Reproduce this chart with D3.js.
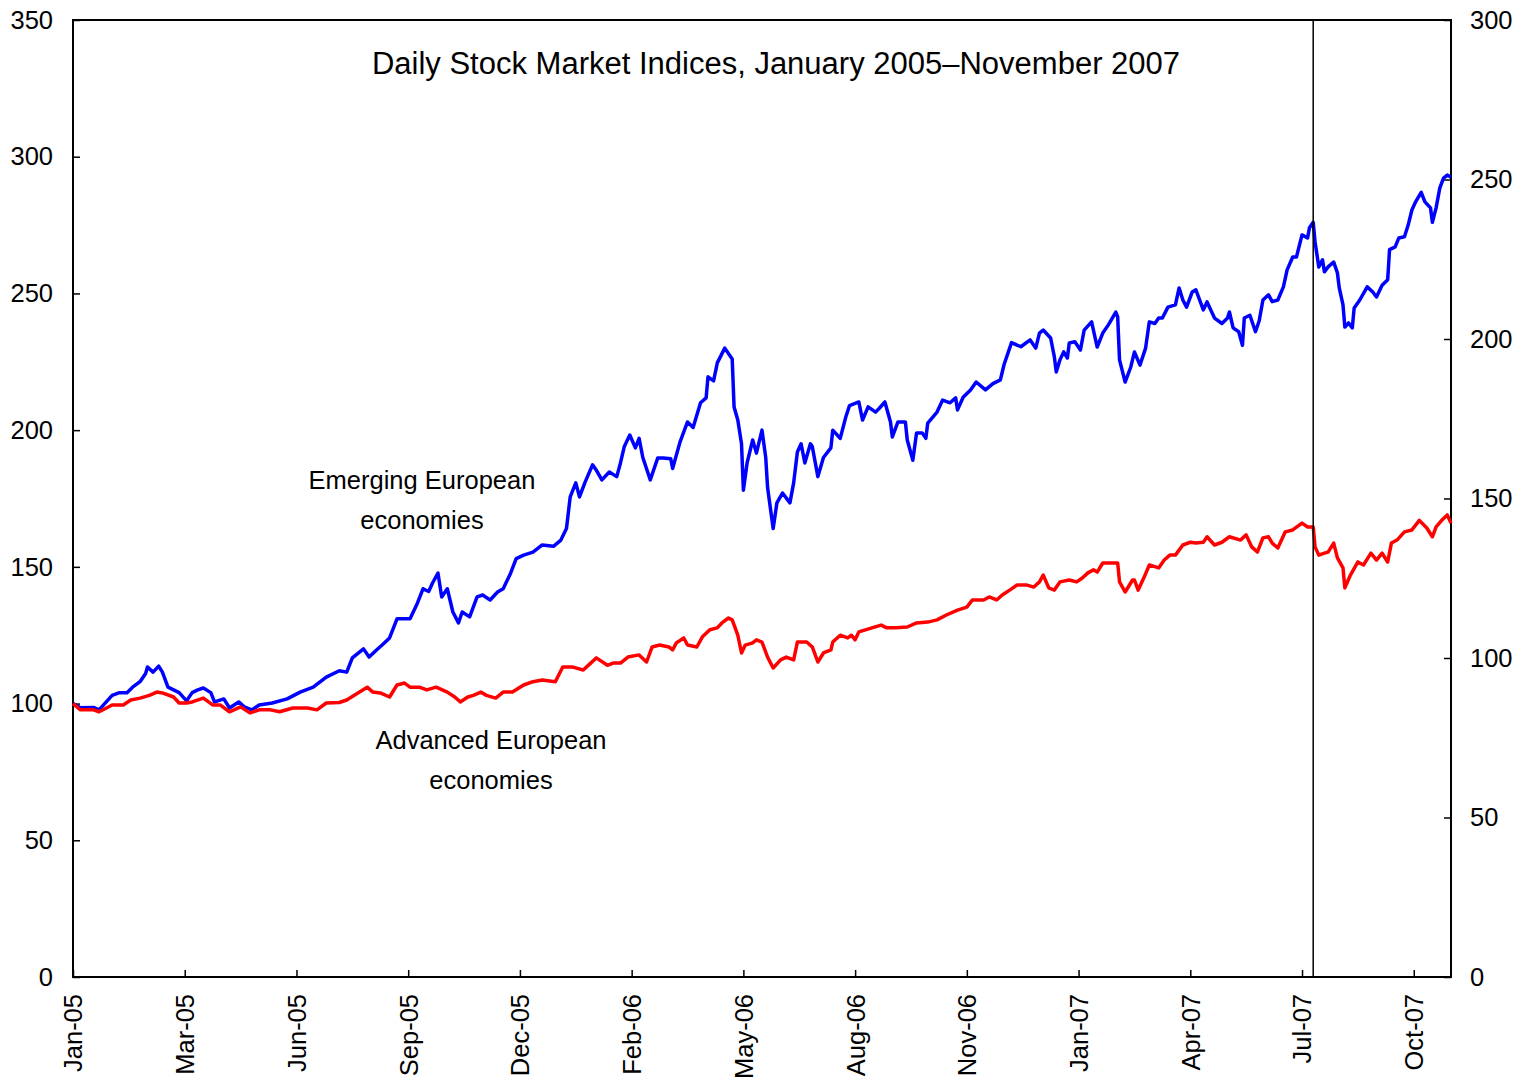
<!DOCTYPE html>
<html>
<head>
<meta charset="utf-8">
<script src="https://cdn.jsdelivr.net/npm/d3@7"></script>
<style>
  body { margin: 0; background: #fff; }
  text { font-family: "Liberation Sans", Arial, sans-serif; fill: #000; }
</style>
</head>
<body>
<div id="chart"></div>
<script>
var svgWidth = 1522;
var svgHeight = 1089;

var margin = { top: 20, right: 71, bottom: 112, left: 73 };
var width = svgWidth - margin.left - margin.right;
var height = svgHeight - margin.top - margin.bottom;

// x is the trading-day number since the first of January 2005
var lastDay = 740;
var tickDays = [0, 60, 120, 180, 240, 300, 360, 420, 480, 540, 600, 660, 720];
var tickLabels = ["Jan-05", "Mar-05", "Jun-05", "Sep-05", "Dec-05", "Feb-06", "May-06",
                  "Aug-06", "Nov-06", "Jan-07", "Apr-07", "Jul-07", "Oct-07"];
var leftTicks = [0, 50, 100, 150, 200, 250, 300, 350];
var rightTicks = [0, 50, 100, 150, 200, 250, 300];
var markerDay = 666;

// [trading day, index level]
var emerging = [
  [0,100],[4,98.5],[11,98.6],[14,97.7],[21,103],[25,104],[29,104],[32,106],[36,108],[39,111],
  [40,113.4],[43,111.5],[46,113.7],[48,111.5],[51,106],[54,105],[57,104],[61,101],[64,104],[67,105],
  [70,105.7],[74,104],[76,100.6],[81,101.7],[84,98.4],[89,100.6],[92,98.8],[96,97.7],[100,99.5],[107,100.2],
  [115,101.7],[122,104.2],[129,106],[136,109.7],[143,112],[147,111.5],[150,116.7],[156,120],[159,117],[163,119.6],
  [166,121.4],[170,124],[174,131],[177,131],[181,131],[185,136.8],[188,142],[191,141],[193,144],[196,147.7],
  [198,139],[201,142],[204,133.5],[207,129.5],[209,133.5],[213,131.7],[217,139],[220,139.7],[224,137.9],[228,140.8],
  [231,142],[235,147.7],[238,153],[242,154.3],[247,155.4],[252,158],[258,157.5],[262,159.8],[265,164],[267,175.6],
  [270,180.7],[272,175.6],[275,181],[279,187.3],[281,185.4],[284,181.8],[288,184.7],[292,183],[294,188],[296,193.9],
  [299,198.2],[302,193.5],[304,197],[306,190],[310,181.8],[314,189.8],[317,189.8],[321,189.5],[322,186],[326,195.7],
  [330,203],[333,201],[337,210],[340,211.8],[341,219.5],[344,218],[346,224.6],[350,230],[354,226],[355,208.5],
  [357,203.7],[359,195],[360,178],[362,188],[365,196.4],[367,191.6],[370,200],[372,190],[373,179],[376,164],
  [378,173.4],[381,177],[385,173.4],[387,180.7],[389,192],[391,195],[393,188],[396,195],[397,194],[400,183],
  [403,190],[407,193.5],[408,200],[412,197],[415,204.8],[417,209],[422,210.3],[424,203.7],[427,208.5],[431,206.6],
  [433,208],[436,210.3],[439,203],[440,197.5],[443,203],[447,203],[448,196.4],[451,189],[453,199],[456,199],
  [458,197],[459,202.6],[464,206.6],[467,211],[471,210],[474,211.8],[475,207.4],[478,212],[482,214.7],[485,217.6],
  [490,214.7],[494,217],[498,218.4],[500,224],[504,232],[509,230.5],[514,233],[517,230],[519,235.5],[521,236.6],
  [525,233.7],[527,226.8],[528,221.3],[530,225.7],[532,228.6],[534,226.4],[535,231.9],[538,232.3],[541,229.3],[543,236.6],
  [547,239.6],[550,230.4],[553,235.5],[556,238.5],[560,243.2],[561,241.4],[562,225.7],[565,217.6],[568,223],[570,228.6],
  [573,223.8],[576,230],[578,239.6],[581,239],[583,241],[585,241],[588,245],[592,245.8],[594,252],[596,247.6],
  [598,245],[601,250.5],[603,251.3],[607,244],[609,246.9],[613,241],[617,239],[620,241],[621,243.2],[623,237.4],
  [626,236],[628,231],[629,241],[632,242],[635,236],[637,240],[639,247.6],[642,249.5],[644,247],[647,247.6],
  [650,252.4],[652,258.6],[655,263.3],[657,263.3],[660,271.4],[663,270.3],[664,274],[666,276],[667,268.8],[669,259.7],
  [671,262.3],[672,257.9],[674,259.7],[677,261.5],[679,257.5],[680,252],[682,245.8],[683,237.7],[685,239.2],[687,237.4],
  [688,244.7],[691,247.6],[695,252.4],[698,250.5],[700,248.7],[703,253],[706,255],[707,266],[710,267],[712,270.3],
  [715,270.7],[717,275],[719,280.5],[721,283.5],[724,287],[726,283.5],[729,281.3],[730,276],[732,281.3],[734,288.6],
  [736,292.2],[738,293.3],[740,292.5]
];

var advanced = [
  [0,100],[4,97.7],[11,97.7],[14,97],[18,98.4],[21,99.5],[27,99.5],[31,101.3],[36,102],[41,103],
  [45,104.2],[48,103.9],[54,102.4],[57,100.2],[61,100.2],[64,100.6],[70,102],[75,99.5],[79,99.5],[84,97],
  [90,98.8],[95,96.6],[100,97.7],[106,97.7],[111,97],[118,98.4],[126,98.4],[131,97.7],[136,100.2],[143,100.4],
  [147,101.3],[153,103.9],[158,106],[161,104.2],[165,103.9],[170,102.4],[174,106.8],[178,107.5],[181,106],[186,106],
  [190,105],[195,106],[201,104.2],[205,102.4],[208,100.6],[212,102.4],[215,103],[219,104.2],[222,103],[227,102],
  [231,104.2],[236,104.2],[242,106.8],[247,108],[252,108.6],[259,108],[263,113.4],[268,113.4],[274,112.3],[278,114.8],
  [281,116.7],[287,114],[290,114.8],[294,114.8],[298,117],[304,117.8],[308,115.2],[311,120.7],[315,121.4],[320,120.7],
  [322,119.6],[324,122.2],[328,124],[330,121.4],[335,120.7],[338,124.4],[342,127],[346,127.7],[349,129.8],[352,131.3],
  [354,130.6],[357,125],[359,118.5],[361,121.4],[365,122.2],[367,123.3],[370,122.5],[373,117],[376,113],[380,116],
  [383,117],[387,116],[389,122.5],[394,122.5],[397,120.7],[400,115.2],[403,118.5],[407,119.6],[408,122.5],[412,125],
  [416,124],[418,125],[420,123.3],[422,126.2],[429,127.7],[434,128.7],[437,127.7],[442,127.7],[448,128],[453,129.5],
  [459,129.8],[464,130.6],[469,132.4],[475,134.2],[480,135.3],[483,137.9],[489,137.9],[492,139],[496,137.9],[499,139.7],
  [503,141.5],[507,143.4],[512,143.4],[516,142.6],[519,144.5],[521,147],[524,142.3],[527,141.5],[530,144.5],[535,145.2],
  [539,144.5],[542,145.9],[545,147.8],[548,148.9],[550,148.1],[553,151.4],[557,151.4],[561,151.4],[562,144.5],[565,140.8],
  [569,145.2],[570,145.2],[572,141.5],[575,145.9],[578,150.7],[583,149.6],[586,152.5],[589,154.3],[592,154.3],[596,158],
  [600,159],[603,158.7],[607,159],[609,161],[613,158],[617,159],[621,161],[627,159.8],[630,161.7],[633,157.3],
  [636,155.4],[639,160.6],[642,161],[644,158.7],[647,156.9],[651,162.8],[655,163.5],[660,166],[663,164.6],[666,164.6],
  [667,157.3],[669,154.3],[672,155],[674,155.4],[677,158.7],[679,153.3],[682,149.6],[683,142.3],[686,147],[690,151.8],
  [693,150.7],[697,155],[700,152.5],[703,155],[706,151.8],[708,158.7],[711,159.8],[715,162.8],[719,163.5],[723,167],
  [727,164.2],[730,161],[732,164.6],[735,167],[738,169],[740,166]
];

var svg = d3.select("#chart")
  .append("svg")
  .attr("width", svgWidth)
  .attr("height", svgHeight);

var chartGroup = svg.append("g")
  .attr("transform", `translate(${margin.left}, ${margin.top})`);

var xScale = d3.scaleLinear().domain([0, lastDay]).range([0, width]);
var yLeft = d3.scaleLinear().domain([0, 350]).range([height, 0]);
var yRight = d3.scaleLinear().domain([0, 300]).range([height, 0]);

// bottom axis, ticks point inward, labels turned on their side
var bottomAxis = d3.axisBottom(xScale)
  .tickValues(tickDays)
  .tickFormat((d, i) => tickLabels[i])
  .tickSizeInner(-7)
  .tickSizeOuter(0);

var xAxis = chartGroup.append("g")
  .attr("transform", `translate(0, ${height})`)
  .call(bottomAxis);

xAxis.selectAll("text")
  .attr("transform", "rotate(-90)")
  .attr("text-anchor", "end")
  .attr("x", -17)
  .attr("y", 0)
  .attr("dy", "0.35em");

var leftAxis = d3.axisLeft(yLeft)
  .tickValues(leftTicks)
  .tickSizeInner(-7)
  .tickSizeOuter(0)
  .tickPadding(20);

var yAxisLeft = chartGroup.append("g").call(leftAxis);

var rightAxis = d3.axisRight(yRight)
  .tickValues(rightTicks)
  .tickSizeInner(-7)
  .tickSizeOuter(0)
  .tickPadding(19);

var yAxisRight = chartGroup.append("g")
  .attr("transform", `translate(${width}, 0)`)
  .call(rightAxis);

[xAxis, yAxisLeft, yAxisRight].forEach(function (g) {
  g.select(".domain").remove();
  g.selectAll(".tick line").attr("stroke", "#000").attr("stroke-width", 1.5);
  g.selectAll("text").style("font-size", "25.5px").attr("fill", "#000");
});

// plot frame
chartGroup.append("rect")
  .attr("x", 0)
  .attr("y", 0)
  .attr("width", width)
  .attr("height", height)
  .attr("fill", "none")
  .attr("stroke", "#000")
  .attr("stroke-width", 2);

var line = d3.line()
  .x(d => xScale(d[0]))
  .y(d => yLeft(d[1]));

chartGroup.append("path")
  .datum(emerging)
  .attr("d", line)
  .attr("fill", "none")
  .attr("stroke", "#0000ff")
  .attr("stroke-width", 3.5)
  .attr("stroke-linejoin", "round");

chartGroup.append("path")
  .datum(advanced)
  .attr("d", line)
  .attr("fill", "none")
  .attr("stroke", "#ff0000")
  .attr("stroke-width", 3.5)
  .attr("stroke-linejoin", "round");

// vertical marker line
chartGroup.append("line")
  .attr("x1", xScale(markerDay))
  .attr("x2", xScale(markerDay))
  .attr("y1", 0)
  .attr("y2", height)
  .attr("stroke", "#000")
  .attr("stroke-width", 1.5);

// title
chartGroup.append("text")
  .attr("x", 703)
  .attr("y", 54)
  .attr("text-anchor", "middle")
  .style("font-size", "31px")
  .text("Daily Stock Market Indices, January 2005\u2013November 2007");

// series labels
var labels = [
  { x: 349, y: 469, lines: ["Emerging European", "economies"] },
  { x: 418, y: 729, lines: ["Advanced European", "economies"] }
];

labels.forEach(function (lab) {
  var t = chartGroup.append("text")
    .attr("text-anchor", "middle")
    .style("font-size", "25.5px");
  lab.lines.forEach(function (s, i) {
    t.append("tspan")
      .attr("x", lab.x)
      .attr("y", lab.y + i * 40)
      .text(s);
  });
});
</script>
</body>
</html>
